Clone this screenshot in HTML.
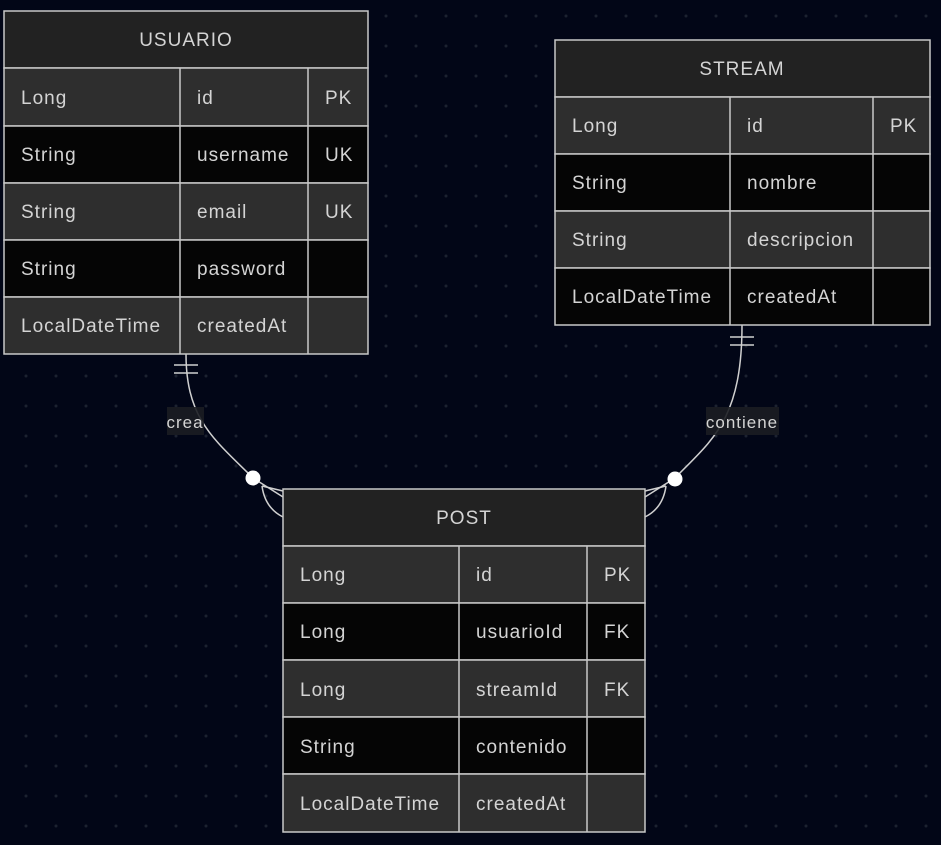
<!DOCTYPE html>
<html><head><meta charset="utf-8"><style>
html,body{margin:0;padding:0;background:#020617;}
svg{display:block;}
text{font-family:"Liberation Sans",sans-serif;font-size:19px;fill:#d4d4d4;letter-spacing:1px;}
</style></head><body>
<svg width="941" height="845" viewBox="0 0 941 845" xmlns="http://www.w3.org/2000/svg">
<defs>
<pattern id="dots" x="0" y="0" width="30" height="30" patternUnits="userSpaceOnUse">
<circle cx="26" cy="16" r="1.5" fill="#1c2230"/>
</pattern>
</defs>
<rect width="941" height="845" fill="#020617"/>
<rect width="941" height="845" fill="url(#dots)"/>

<g fill="none" stroke="#d0d0d0" stroke-width="1.5">
<path d="M186,354 C186,420 215,440 253,478 L283,497"/>
<line x1="174" y1="365" x2="198" y2="365"/>
<line x1="174" y1="373" x2="198" y2="373"/>
<path d="M262,486 L283,491"/>
<path d="M262,486 Q265,508 283,517"/>
<path d="M742,325 C742,420 712,440 675,478 L645,497"/>
<line x1="730" y1="337" x2="754" y2="337"/>
<line x1="730" y1="345" x2="754" y2="345"/>
<path d="M666,486 L645,491"/>
<path d="M666,486 Q663,508 645,517"/>
</g>
<circle cx="253" cy="478" r="7.5" fill="#fff"/>
<circle cx="675" cy="479" r="7.5" fill="#fff"/>
<rect x="167" y="407" width="37" height="28" fill="#1b1d22" opacity="0.9"/>
<text x="185" y="428" text-anchor="middle" style="font-size:17px">crea</text>
<rect x="706" y="407" width="73" height="28" fill="#1b1d22" opacity="0.9"/>
<text x="742" y="428" text-anchor="middle" style="font-size:17px">contiene</text>

<g stroke="#c8c8c8" stroke-width="1.5">
<rect x="4" y="11" width="364" height="57" fill="#222"/>
<rect x="4" y="68" width="364" height="58" fill="#2e2e2e"/>
<rect x="4" y="126" width="364" height="57" fill="#050505"/>
<rect x="4" y="183" width="364" height="57" fill="#2e2e2e"/>
<rect x="4" y="240" width="364" height="57" fill="#050505"/>
<rect x="4" y="297" width="364" height="57" fill="#2e2e2e"/>
<line x1="180" y1="68" x2="180" y2="354"/>
<line x1="308" y1="68" x2="308" y2="354"/>
</g>
<text x="186" y="46" text-anchor="middle">USUARIO</text>
<text x="21" y="104">Long</text><text x="197" y="104">id</text><text x="325" y="104">PK</text>
<text x="21" y="161">String</text><text x="197" y="161">username</text><text x="325" y="161">UK</text>
<text x="21" y="218">String</text><text x="197" y="218">email</text><text x="325" y="218">UK</text>
<text x="21" y="275">String</text><text x="197" y="275">password</text>
<text x="21" y="332">LocalDateTime</text><text x="197" y="332">createdAt</text>

<g stroke="#c8c8c8" stroke-width="1.5">
<rect x="555" y="40" width="375" height="57" fill="#222"/>
<rect x="555" y="97" width="375" height="57" fill="#2e2e2e"/>
<rect x="555" y="154" width="375" height="57" fill="#050505"/>
<rect x="555" y="211" width="375" height="57" fill="#2e2e2e"/>
<rect x="555" y="268" width="375" height="57" fill="#050505"/>
<line x1="730" y1="97" x2="730" y2="325"/>
<line x1="873" y1="97" x2="873" y2="325"/>
</g>
<text x="742" y="75" text-anchor="middle">STREAM</text>
<text x="572" y="132">Long</text><text x="747" y="132">id</text><text x="890" y="132">PK</text>
<text x="572" y="189">String</text><text x="747" y="189">nombre</text>
<text x="572" y="246">String</text><text x="747" y="246">descripcion</text>
<text x="572" y="303">LocalDateTime</text><text x="747" y="303">createdAt</text>

<g stroke="#c8c8c8" stroke-width="1.5">
<rect x="283" y="489" width="362" height="57" fill="#222"/>
<rect x="283" y="546" width="362" height="57" fill="#2e2e2e"/>
<rect x="283" y="603" width="362" height="57" fill="#050505"/>
<rect x="283" y="660" width="362" height="57" fill="#2e2e2e"/>
<rect x="283" y="717" width="362" height="57" fill="#050505"/>
<rect x="283" y="774" width="362" height="58" fill="#2e2e2e"/>
<line x1="459" y1="546" x2="459" y2="832"/>
<line x1="587" y1="546" x2="587" y2="832"/>
</g>
<text x="464" y="524" text-anchor="middle">POST</text>
<text x="300" y="581">Long</text><text x="476" y="581">id</text><text x="604" y="581">PK</text>
<text x="300" y="638">Long</text><text x="476" y="638">usuarioId</text><text x="604" y="638">FK</text>
<text x="300" y="696">Long</text><text x="476" y="696">streamId</text><text x="604" y="696">FK</text>
<text x="300" y="753">String</text><text x="476" y="753">contenido</text>
<text x="300" y="810">LocalDateTime</text><text x="476" y="810">createdAt</text>
</svg>
</body></html>
